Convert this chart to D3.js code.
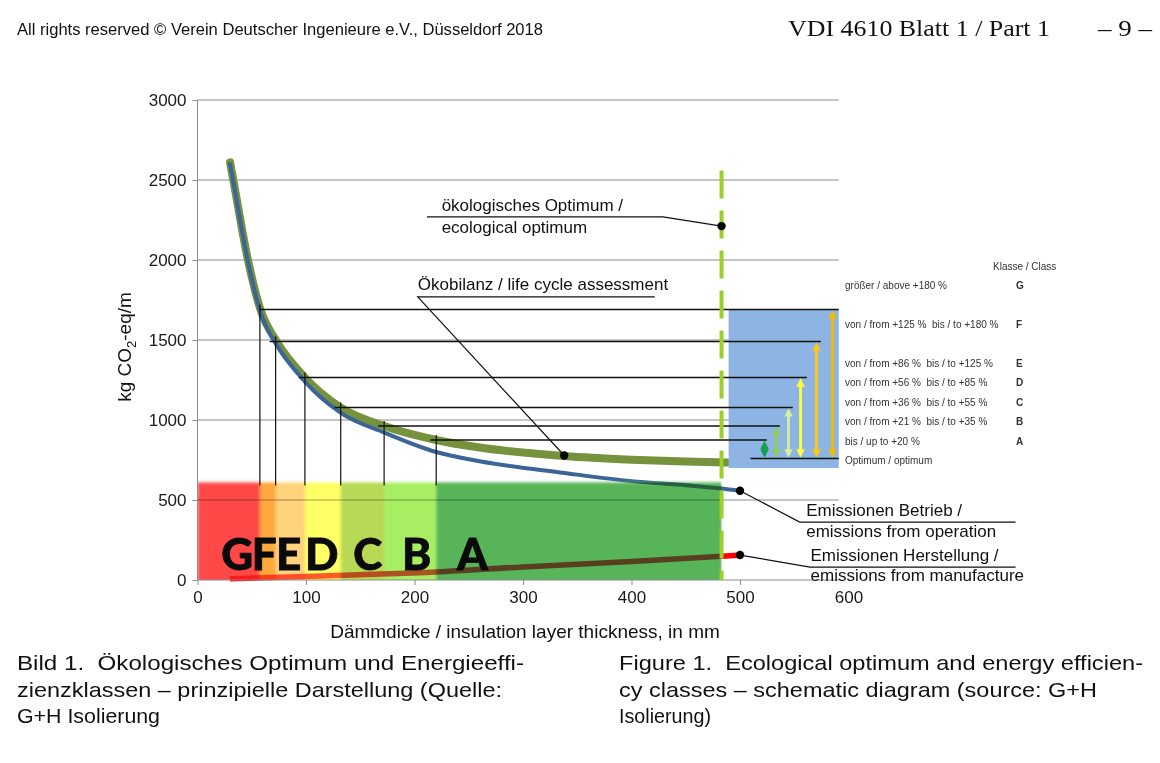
<!DOCTYPE html>
<html>
<head>
<meta charset="utf-8">
<script src="https://cdn.jsdelivr.net/npm/d3@7"></script>
<style>
  body { margin: 0; background: #fff; }
  text { font-family: "Liberation Sans", Arial, sans-serif; }
</style>
</head>
<body>
<div id="chart"></div>
<script>
// ---- chart values ----
var thicknessTicks = [0, 100, 200, 300, 400, 500, 600];
var co2Ticks = [0, 500, 1000, 1500, 2000, 2500, 3000];

// Ökobilanz / life cycle assessment (total)
var lcaX = [30, 33, 46.5, 58, 73, 99, 132, 172, 220, 260, 338, 400, 450, 488];
var lcaY = [2610, 2500, 2000, 1690, 1490, 1265, 1078, 962, 875, 828, 775, 752, 740, 735];
// Emissionen Betrieb / emissions from operation
var opX = [30, 33, 46.5, 58, 73, 99, 132, 172, 220, 260, 338, 400, 450, 483, 500];
var opY = [2600, 2490, 1990, 1675, 1470, 1240, 1045, 922, 800, 742, 669, 618, 592, 572, 558];
// Emissionen Herstellung / emissions from manufacture
var mfgX = [30, 100, 150, 220, 300, 400, 483, 500];
var mfgY = [8, 22, 33, 50, 82, 115, 148, 156];

// efficiency classes along the thickness axis
var classNames = ["G", "F", "E", "D", "C", "B", "A"];
var classFrom = [0, 57.5, 72, 99, 132, 172, 220];
var classTo = [57.5, 72, 99, 132, 172, 220, 483];
var classLetterX = [36.5, 61.5, 84, 114.5, 157, 202, 253.5];
var bandTop = 610;

// class limits F..A on the LCA curve
var limitX = [57.5, 72, 99, 132, 172, 220];
var limitY = [1690, 1490, 1265, 1078, 962, 875];
var limitEnd = [591, 574.5, 561.6, 548.7, 536.7, 524.7];
var arrowX = [585.3, 570.5, 555.8, 544.7, 533.6, 522.6];
var optimumLevel = 760;
var boxX = [489.5, 591];
var boxY = [700, 1690];

// ecological optimum
var optimumX = 483;
var optimumY = 2212;

var legendLabels = ["größer / above +180 %", "von / from +125 %  bis / to +180 %",
  "von / from +86 %  bis / to +125 %", "von / from +56 %  bis / to +85 %",
  "von / from +36 %  bis / to +55 %", "von / from +21 %  bis / to +35 %",
  "bis / up to +20 %", "Optimum / optimum"];
var legendClasses = ["G", "F", "E", "D", "C", "B", "A", ""];

// ---- styles ----
var classColors = ["#ff4848", "#ffa83c", "#ffd27c", "#ffff66", "#b8d955", "#a8ee62", "#58b458"];
var arrowColors = ["#f2bd00", "#ffc90e", "#ffff3c", "#d4f0a0", "#8fce55", "#12a050"];
var legendRowY = [285, 324, 363, 382, 402, 421, 441, 460];

var svg = d3.select("#chart").append("svg")
  .attr("width", 1160)
  .attr("height", 763);

var x = d3.scaleLinear().domain([0, 600]).range([197.5, 848.5]);
var y = d3.scaleLinear().domain([0, 3000]).range([580, 100]);
var plotRight = x(591);

var defs = svg.append("defs");
defs.append("filter").attr("id", "soft")
  .attr("x", "-5%").attr("y", "-10%").attr("width", "110%").attr("height", "120%")
  .append("feGaussianBlur").attr("stdDeviation", 1.8);
defs.append("clipPath").attr("id", "bandClip").append("rect")
  .attr("x", x(0)).attr("y", y(bandTop) - 20)
  .attr("width", x(483) - x(0)).attr("height", y(0) - y(bandTop) + 20);
defs.append("clipPath").attr("id", "bandInside").append("rect")
  .attr("x", x(0)).attr("y", y(bandTop))
  .attr("width", x(483) - x(0)).attr("height", y(0) - y(bandTop));

arrowColors.forEach(function(c, i) {
  defs.append("marker").attr("id", "ah" + i)
    .attr("viewBox", "0 0 10 10").attr("refX", 6).attr("refY", 5)
    .attr("markerWidth", 3).attr("markerHeight", 3)
    .attr("orient", "auto-start-reverse")
    .append("path").attr("d", "M0,0 L10,5 L0,10 z").attr("fill", c);
});

// ---- header ----
svg.append("text")
  .attr("x", 17).attr("y", 35)
  .attr("font-size", 16)
  .attr("textLength", 526).attr("lengthAdjust", "spacingAndGlyphs")
  .attr("fill", "#111")
  .text("All rights reserved © Verein Deutscher Ingenieure e.V., Düsseldorf 2018");
svg.append("text")
  .attr("x", 788).attr("y", 36)
  .attr("font-size", 24)
  .style("font-family", "'Liberation Serif', 'DejaVu Serif', serif")
  .attr("textLength", 262).attr("lengthAdjust", "spacingAndGlyphs")
  .attr("fill", "#111")
  .text("VDI 4610 Blatt 1 / Part 1");
svg.append("text")
  .attr("x", 1098).attr("y", 36)
  .attr("font-size", 24)
  .style("font-family", "'Liberation Serif', 'DejaVu Serif', serif")
  .attr("textLength", 54).attr("lengthAdjust", "spacingAndGlyphs")
  .attr("fill", "#111")
  .text("– 9 –");

// ---- gridlines ----
var grid = svg.append("g");
grid.selectAll("line")
  .data(co2Ticks.filter(function(d) { return d > 0; }))
  .enter().append("line")
  .attr("x1", x(0)).attr("x2", plotRight)
  .attr("y1", function(d) { return y(d); })
  .attr("y2", function(d) { return y(d); })
  .attr("stroke", "#8c8c8c").attr("stroke-width", 1);

// ---- curves (underneath the class bands) ----
var lineGen = d3.line()
  .x(function(d) { return x(d[0]); })
  .y(function(d) { return y(d[1]); })
  .curve(d3.curveMonotoneX);

var lcaData = d3.zip(lcaX, lcaY);
var opData = d3.zip(opX, opY);
var mfgData = d3.zip(mfgX, mfgY);

svg.append("path").datum(mfgData)
  .attr("d", lineGen).attr("fill", "none")
  .attr("stroke", "#ff0000").attr("stroke-width", 5.5);
svg.append("path").datum(lcaData)
  .attr("d", lineGen).attr("fill", "none")
  .attr("stroke", "#76923c").attr("stroke-width", 8).attr("stroke-linecap", "round");
svg.append("path").datum(opData)
  .attr("d", lineGen).attr("fill", "none")
  .attr("stroke", "#3b6497").attr("stroke-width", 4).attr("stroke-linecap", "round");

// ---- efficiency class bands ----
var bands = svg.append("g").attr("clip-path", "url(#bandClip)")
  .append("g").attr("filter", "url(#soft)");
bands.selectAll("rect")
  .data(classNames)
  .enter().append("rect")
  .attr("x", function(d, i) { return x(classFrom[i]); })
  .attr("width", function(d, i) { return x(classTo[i]) - x(classFrom[i]) + 0.5; })
  .attr("y", y(bandTop))
  .attr("height", y(0) - y(bandTop) + 10)
  .attr("fill", function(d, i) { return classColors[i]; });

// curves and the 500 gridline shining through the bands (multiplied, no group isolation)
svg.append("path").datum(mfgData)
  .attr("d", lineGen).attr("fill", "none")
  .attr("stroke", "#ff0000").attr("stroke-width", 5.5)
  .attr("clip-path", "url(#bandInside)")
  .style("mix-blend-mode", "multiply").attr("opacity", 0.65);
svg.append("path").datum(opData)
  .attr("d", lineGen).attr("fill", "none")
  .attr("stroke", "#3b6497").attr("stroke-width", 4)
  .attr("clip-path", "url(#bandInside)")
  .style("mix-blend-mode", "multiply").attr("opacity", 0.75);
svg.append("line")
  .attr("x1", x(0)).attr("x2", x(483))
  .attr("y1", y(500)).attr("y2", y(500))
  .attr("stroke", "#777").attr("stroke-width", 1)
  .style("mix-blend-mode", "multiply").attr("opacity", 0.7);

// ---- axes ----
svg.append("line")
  .attr("x1", x(0)).attr("x2", x(0)).attr("y1", y(3000)).attr("y2", y(0))
  .attr("stroke", "#8c8c8c");
svg.append("line")
  .attr("x1", x(0)).attr("x2", plotRight).attr("y1", y(0)).attr("y2", y(0))
  .attr("stroke", "#8c8c8c");

var yAxis = svg.append("g")
  .attr("transform", "translate(" + x(0) + ",0)")
  .call(d3.axisLeft(y).tickValues(co2Ticks).tickFormat(d3.format("d")).tickSize(5).tickPadding(6));
var xAxis = svg.append("g")
  .attr("transform", "translate(0," + y(0) + ")")
  .call(d3.axisBottom(x).tickValues(thicknessTicks).tickFormat(d3.format("d")).tickSize(5).tickPadding(6));
[yAxis, xAxis].forEach(function(a) {
  a.select(".domain").remove();
  a.selectAll(".tick line").attr("stroke", "#8c8c8c");
  a.selectAll(".tick text")
    .attr("font-size", 17)
    .attr("fill", "#1a1a1a")
    .style("font-family", "'Liberation Sans', Arial, sans-serif");
});
xAxis.selectAll(".tick").filter(function(d) { return d === 600; }).select("line").remove();

svg.append("text")
  .attr("x", 525).attr("y", 638)
  .attr("text-anchor", "middle")
  .attr("font-size", 19)
  .attr("fill", "#111")
  .text("Dämmdicke / insulation layer thickness, in mm");

var yTitle = svg.append("text")
  .attr("transform", "translate(131,347) rotate(-90)")
  .attr("text-anchor", "middle")
  .attr("font-size", 19)
  .attr("fill", "#111");
yTitle.append("tspan").text("kg CO");
yTitle.append("tspan").attr("font-size", 13).attr("dy", 5).text("2");
yTitle.append("tspan").attr("dy", -5).text("-eq/m");

// ---- blue class box with arrows ----
svg.append("rect")
  .attr("x", x(boxX[0])).attr("y", y(boxY[1]))
  .attr("width", x(boxX[1]) - x(boxX[0]))
  .attr("height", y(boxY[0]) - y(boxY[1]))
  .attr("fill", "#8db4e2");

// class limit lines from the curve to the box
var limits = svg.append("g");
limitX.forEach(function(lx, i) {
  limits.append("line")
    .attr("x1", x(lx)).attr("x2", x(lx))
    .attr("y1", y(bandTop) + 3).attr("y2", y(limitY[i]) - 5)
    .attr("stroke", "#111").attr("stroke-width", 1.2);
  limits.append("line")
    .attr("x1", x(lx) - (i === 0 ? 0 : 6)).attr("x2", x(limitEnd[i]))
    .attr("y1", y(limitY[i])).attr("y2", y(limitY[i]))
    .attr("stroke", "#111").attr("stroke-width", 1.5);
  limits.append("line")
    .attr("x1", x(arrowX[i])).attr("x2", x(arrowX[i]))
    .attr("y1", y(optimumLevel) - 4).attr("y2", y(limitY[i]) + 4)
    .attr("stroke", arrowColors[i]).attr("stroke-width", 2.8)
    .attr("marker-start", "url(#ah" + i + ")")
    .attr("marker-end", "url(#ah" + i + ")");
});
limits.append("line")
  .attr("x1", x(509.7)).attr("x2", x(boxX[1]))
  .attr("y1", y(optimumLevel)).attr("y2", y(optimumLevel))
  .attr("stroke", "#111").attr("stroke-width", 1.5);

// ---- ecological optimum dashed line ----
svg.append("line")
  .attr("x1", x(optimumX)).attr("x2", x(optimumX))
  .attr("y1", y(2560)).attr("y2", y(0))
  .attr("stroke", "#9bcf2a").attr("stroke-width", 4)
  .attr("stroke-dasharray", "28,12");

// ---- big class letters ----
svg.append("g").selectAll("text")
  .data(classNames)
  .enter().append("text")
  .attr("x", function(d, i) { return x(classLetterX[i]); })
  .attr("y", 570)
  .attr("text-anchor", "middle")
  .attr("font-size", 44)
  .attr("font-weight", 900)
  .style("font-family", "Lato, 'Open Sans', sans-serif")
  .attr("fill", "#0a0a0a")
  .attr("stroke", "#0a0a0a").attr("stroke-width", 0.8)
  .text(function(d) { return d; });

// ---- annotations ----
var ann = svg.append("g").attr("fill", "#111");
function leader(pts) {
  ann.append("path")
    .attr("d", d3.line().x(function(d) { return x(d[0]); }).y(function(d) { return y(d[1]); })(pts))
    .attr("fill", "none").attr("stroke", "#111").attr("stroke-width", 1.2);
}
function dot(px, py) {
  ann.append("circle").attr("cx", x(px)).attr("cy", y(py)).attr("r", 4.2).attr("fill", "#000");
}
function label(px, py, str) {
  ann.append("text").attr("x", x(px)).attr("y", y(py))
    .attr("font-size", 17).text(str);
}

leader([[211.5, 2269], [429, 2269], [optimumX, optimumY]]);
dot(optimumX, optimumY);
label(225, 2306, "ökologisches Optimum /");
label(225, 2169, "ecological optimum");

leader([[421.5, 1769], [203, 1769], [338, 778]]);
dot(338, 778);
label(203, 1812, "Ökobilanz / life cycle assessment");

leader([[500, 558], [555, 362], [754, 362]]);
dot(500, 558);
label(561, 400, "Emissionen Betrieb /");
label(561, 269, "emissions from operation");

leader([[500, 156], [564.5, 81], [754, 81]]);
dot(500, 156);
label(565, 119, "Emissionen Herstellung /");
label(565, -6, "emissions from manufacture");

// ---- class legend on the right ----
var legend = svg.append("g").attr("font-size", 10).attr("fill", "#333");
legend.append("text").attr("x", 993).attr("y", 270).text("Klasse / Class");
legendLabels.forEach(function(t, i) {
  legend.append("text").attr("x", 845).attr("y", legendRowY[i] + 3.5)
    .style("white-space", "pre").text(t);
  legend.append("text").attr("x", 1016).attr("y", legendRowY[i] + 3.5)
    .attr("font-weight", "bold").text(legendClasses[i]);
});

// ---- captions ----
var captionLeft = ["Bild 1.  Ökologisches Optimum und Energieeffi-",
  "zienzklassen – prinzipielle Darstellung (Quelle:", "G+H Isolierung"];
var captionRight = ["Figure 1.  Ecological optimum and energy efficien-",
  "cy classes – schematic diagram (source: G+H", "Isolierung)"];
var captionWidthsLeft = [507, 485, 143];
var captionWidthsRight = [524, 478, 92];
captionLeft.forEach(function(t, i) {
  svg.append("text").attr("x", 17).attr("y", 670 + i * 26.5)
    .attr("font-size", 21).style("white-space", "pre")
    .attr("textLength", captionWidthsLeft[i]).attr("lengthAdjust", "spacingAndGlyphs")
    .attr("fill", "#111").text(t);
});
captionRight.forEach(function(t, i) {
  svg.append("text").attr("x", 619).attr("y", 670 + i * 26.5)
    .attr("font-size", 21).style("white-space", "pre")
    .attr("textLength", captionWidthsRight[i]).attr("lengthAdjust", "spacingAndGlyphs")
    .attr("fill", "#111").text(t);
});
</script>
</body>
</html>
